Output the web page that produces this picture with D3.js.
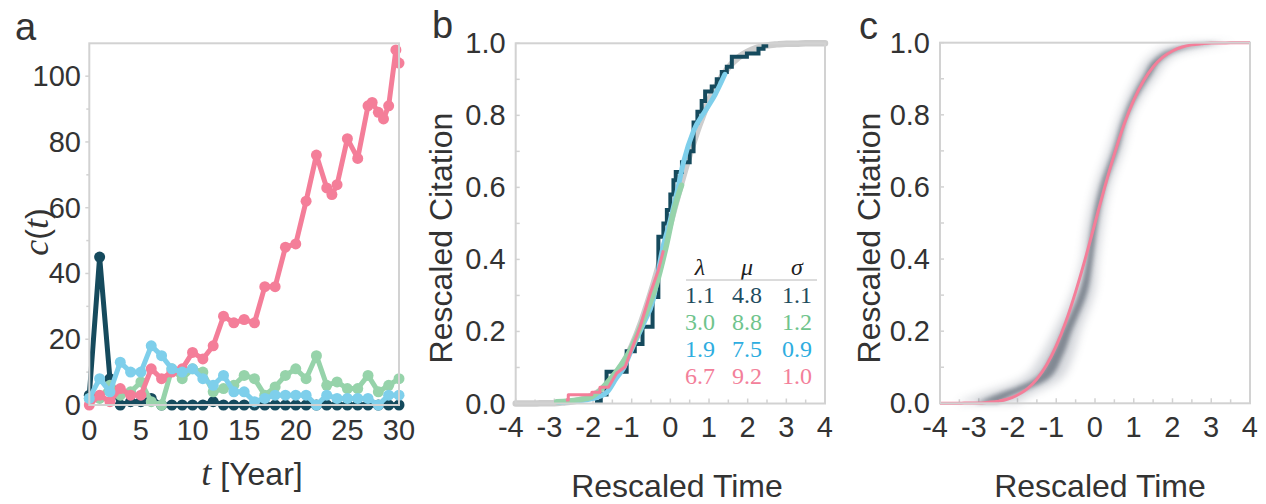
<!DOCTYPE html>
<html><head><meta charset="utf-8">
<script src="https://cdn.jsdelivr.net/npm/d3@7"></script>
<style>body{margin:0;background:#fff}svg{display:block}</style>
</head><body><svg id="chart" width="1266" height="504"></svg>
<script>
// ---------- DATA ----------
const yearsA = [0,1,2,3,4,5,6,7,8,9,10,11,12,13,14,15,16,17,18,19,20,21,22,23,24,25,26,27,28,29,30];
const darkCit  = [3,45,8,0,1,1,2,0,0,0,0,0,1,0,0,0,0,0,0,0,0,0,0,0,0,0,0,0,0,0,0];
const greenCit = [2,2,6,3,4,7,1,0,11,8,11,10,4,5,6,9,8,3,5.5,9,11,8,15,6,7,5,5,9,4,6,8];
const blueCit  = [2,8,4,13,10,10,18,15,11,10,11,8,6,9,4,4,1,2,3,3,3,3,0,3,2,2,2,2,0,3,3];
const pinkYears = [0,1,2,3,4,5,6,7,8,9,10,11,12,13,14,15,16,17,18,19,20,21,22,23,23.5,24,25,26,27,27.4,28,28.5,29,29.7,30];
const pinkCit   = [0,3,1,5,3,3,11,8,10,11,16,14,18,27,25,26,25,36,36,48,49,62,76,66,64,67,81,75,91,92,89,87,91,108,104];

const cdfX = [-4,-3.75,-3.5,-3.25,-3,-2.75,-2.5,-2.25,-2,-1.75,-1.5,-1.25,-1,-0.75,-0.5,-0.25,0,0.25,0.5,0.75,1,1.25,1.5,1.75,2,2.25,2.5,2.75,3,3.25,3.5,3.75,4];
const cdfP = [0,0,0,0.001,0.001,0.003,0.006,0.012,0.023,0.04,0.067,0.106,0.159,0.227,0.309,0.401,0.5,0.599,0.691,0.773,0.841,0.894,0.933,0.96,0.977,0.988,0.994,0.997,0.999,0.999,1,1,1];

// panel b empirical curves
const darkStepX = [-1.95,-1.8,-1.65,-1.13,-0.92,-0.72,-0.46,-0.31,-0.18,-0.09,0.0,0.08,0.14,0.3,0.5,0.6,0.7,0.81,0.9,1.07,1.2,1.33,1.46,1.59,1.98,2.28,2.41,2.48];
const darkStepY = [0.005,0.025,0.088,0.145,0.165,0.213,0.296,0.463,0.5,0.537,0.58,0.62,0.643,0.67,0.7,0.78,0.81,0.84,0.866,0.88,0.9,0.92,0.935,0.963,0.972,0.985,0.993,1.0];
const blueCurveX = [-2.9,-2.5,-2.0,-1.65,-1.4,-1.2,-1.0,-0.7,-0.44,-0.22,0.0,0.2,0.34,0.6,0.9,1.16,1.41];
const blueCurveY = [0.003,0.006,0.014,0.03,0.07,0.1,0.15,0.22,0.29,0.42,0.51,0.6,0.67,0.757,0.812,0.858,0.914];
const greenCurveX = [-2.94,-2.4,-2.03,-1.65,-1.39,-1.04,-0.7,-0.35,-0.1,0.1,0.29];
const greenCurveY = [0.005,0.01,0.019,0.056,0.09,0.148,0.232,0.334,0.44,0.54,0.606];
const pinkCurveX = [-2.7,-2.64,-2.64,-2.03,-2.03,-1.82,-1.82,-1.6,-1.39,-1.17,-1.04,-0.78,-0.52,-0.31,-0.18];
const pinkCurveY = [0.01,0.01,0.024,0.024,0.031,0.031,0.045,0.045,0.084,0.102,0.139,0.213,0.306,0.37,0.425];

// panel c band of many rescaled curves (extent at given heights)
const bandP  = [0,0.018,0.065,0.129,0.196,0.314,0.397,0.471,0.6,0.703,0.804,0.906,0.961,0.988,1];
const bandLo = [-3.6,-3.15,-1.94,-1.42,-1.08,-0.57,-0.35,-0.26,0.0,0.34,0.65,1.08,1.42,1.84,2.6];
const bandHi = [-2.0,-1.75,-0.9,-0.57,-0.39,0.0,0.08,0.17,0.39,0.73,0.99,1.59,2.02,2.87,3.6];

// table
const tableHeader = ["λ","μ","σ"];
const tableRows = [["1.1","4.8","1.1"],["3.0","8.8","1.2"],["1.9","7.5","0.9"],["6.7","9.2","1.0"]];

// ticks
const aYTicks = [0,20,40,60,80,100];
const aXTicks = [0,5,10,15,20,25,30];
const rYTicks = [0,0.2,0.4,0.6,0.8,1.0];
const rYLabels = ["0.0","0.2","0.4","0.6","0.8","1.0"];
const rXTicks = [-4,-3,-2,-1,0,1,2,3,4];

// ---------- STYLE ----------
const C = {dark:"#154a5d", green:"#96d3aa", blue:"#7ecfeb", pink:"#f47e99", gray:"#cdcdcd"};
const tableColors = ["#1f4d5f","#6fc48c","#2eade0","#f3809a"];
const frameCol = "#d2d2d2", textCol = "#333";
const sans = "'Liberation Sans', Arial, sans-serif";
const serif = "'Liberation Serif', 'Times New Roman', serif";
const tickFs = 29, labelFs = 32;

const svg = d3.select("#chart");
const defs = svg.append("defs");
defs.append("filter").attr("id","blur1").attr("x","-50%").attr("y","-20%").attr("width","200%").attr("height","140%")
  .append("feGaussianBlur").attr("stdDeviation",4);
defs.append("filter").attr("id","blur2").attr("x","-50%").attr("y","-20%").attr("width","200%").attr("height","140%")
  .append("feGaussianBlur").attr("stdDeviation",2);

function txt(g, x, y, s, opts={}) {
  return g.append("text").attr("x",x).attr("y",y).text(s)
    .attr("font-family",opts.ff||sans).attr("font-size",opts.fs||tickFs)
    .attr("fill",opts.fill||textCol).attr("text-anchor",opts.anchor||"middle");
}
function frame(x, y) {
  svg.append("rect").attr("x",x.range()[0]).attr("y",y.range()[1])
    .attr("width",x.range()[1]-x.range()[0]).attr("height",y.range()[0]-y.range()[1])
    .attr("fill","none").attr("stroke",frameCol).attr("stroke-width",2);
}

// ---------- PANEL A ----------
const xa = d3.scaleLinear([0,30],[89.3,399]);
const ya = d3.scaleLinear([0,110],[405,43.3]);
const ga = svg.append("g");
frame(xa, ya);
d3.range(0,110,10).forEach(v=>{
  ga.append("line").attr("x1",xa.range()[0]-(v%20===0?4:3)).attr("x2",xa.range()[0]).attr("y1",ya(v)).attr("y2",ya(v))
    .attr("stroke",frameCol).attr("stroke-width",1.5);
});
aYTicks.forEach(v=> txt(ga, 81, ya(v)+10, v, {anchor:"end"}));
aXTicks.forEach(v=> txt(ga, xa(v), 440, v));
const xl = ga.append("text").attr("x",252).attr("y",485).attr("text-anchor","middle")
  .attr("font-size",labelFs).attr("fill",textCol).attr("font-family",sans);
xl.append("tspan").attr("font-family",serif).attr("font-style","italic").attr("font-size",36).text("t");
xl.append("tspan").text(" [Year]");
const yl = ga.append("text").attr("transform","translate(48,232) rotate(-90)").attr("text-anchor","middle")
  .attr("font-size",labelFs).attr("fill",textCol).attr("font-family",sans);
yl.append("tspan").attr("font-family",serif).attr("font-style","italic").attr("font-size",36).text("c");
yl.append("tspan").text("(");
yl.append("tspan").attr("font-family",serif).attr("font-style","italic").attr("font-size",36).text("t");
yl.append("tspan").text(")");

const seriesA = [
  {col:C.dark,  t:yearsA, v:darkCit},
  {col:C.green, t:yearsA, v:greenCit},
  {col:C.pink,  t:pinkYears, v:pinkCit},
  {col:C.blue,  t:yearsA, v:blueCit}
];
const lineA = d3.line().x(d=>xa(d[0])).y(d=>ya(d[1]));
seriesA.forEach(s=>{
  const pts = s.t.map((t,i)=>[t,s.v[i]]);
  const g = ga.append("g");
  g.append("path").attr("d",lineA(pts)).attr("fill","none").attr("stroke",s.col)
    .attr("stroke-width",5).attr("stroke-linejoin","round");
  g.selectAll("circle").data(pts).join("circle").attr("cx",d=>xa(d[0])).attr("cy",d=>ya(d[1]))
    .attr("r",5.5).attr("fill",s.col);
});
txt(ga, 15, 40, "a", {anchor:"start", fs:38});

// ---------- RESCALED PANELS ----------
function rescaledAxes(x, y, g, ylabX, xlabX) {
  frame(x, y);
  d3.range(-4,4.01,0.5).forEach(v=>{
    g.append("line").attr("x1",x(v)).attr("x2",x(v)).attr("y1",y.range()[0]).attr("y2",y.range()[0]-(Number.isInteger(v)?5:4))
      .attr("stroke",frameCol).attr("stroke-width",1.5);
  });
  d3.range(0,1.01,0.1).forEach(v=>{
    g.append("line").attr("x1",x.range()[0]).attr("x2",x.range()[0]+4).attr("y1",y(v)).attr("y2",y(v))
      .attr("stroke",frameCol).attr("stroke-width",1.5);
  });
  rYTicks.forEach((v,i)=> txt(g, x.range()[0]-10, y(v)+10, rYLabels[i], {anchor:"end"}));
  rXTicks.forEach(v=> txt(g, x(v)+8, 437, String(v), {anchor:"end"}));
  g.append("text").attr("transform",`translate(${ylabX},238) rotate(-90)`).attr("text-anchor","middle")
    .attr("font-family",sans).attr("font-size",labelFs).attr("fill",textCol).text("Rescaled Citation");
  txt(g, xlabX, 497, "Rescaled Time", {fs:labelFs});
}

// ---------- PANEL B ----------
const xb = d3.scaleLinear([-4,4],[515.7,825]);
const yb = d3.scaleLinear([0,1],[403.5,43.3]);
const gb = svg.append("g");
rescaledAxes(xb, yb, gb, 452, 677);
txt(gb, 432, 38, "b", {anchor:"start", fs:38});
const zip = (a,b)=>a.map((v,i)=>[v,b[i]]);
const lb = ()=> d3.line().x(d=>xb(d[0])).y(d=>yb(d[1]));
gb.append("path").attr("d",lb().curve(d3.curveMonotoneX)(zip(cdfX,cdfP))).attr("fill","none")
  .attr("stroke",C.gray).attr("stroke-width",6.5).attr("stroke-linecap","round");
gb.append("path").attr("d",lb().curve(d3.curveStepAfter)(zip(darkStepX,darkStepY)))
  .attr("fill","none").attr("stroke",C.dark).attr("stroke-width",4);
gb.append("path").attr("d",lb().curve(d3.curveMonotoneX)(zip(blueCurveX,blueCurveY)))
  .attr("fill","none").attr("stroke",C.blue).attr("stroke-width",5).attr("stroke-linecap","round");
gb.append("path").attr("d",lb().curve(d3.curveMonotoneX)(zip(greenCurveX,greenCurveY)))
  .attr("fill","none").attr("stroke",C.green).attr("stroke-width",5.5).attr("stroke-linecap","round");
gb.append("path").attr("d",lb()(zip(pinkCurveX,pinkCurveY)))
  .attr("fill","none").attr("stroke",C.pink).attr("stroke-width",3).attr("stroke-linejoin","round");

// table
const colX = [700, 747, 797];
const headY = 275, rowY = [303, 330, 357, 384];
tableHeader.forEach((h,i)=> txt(gb, colX[i], headY, h, {ff:serif, fs:24, fill:"#222"}).attr("font-style","italic"));
gb.append("line").attr("x1",686).attr("x2",817).attr("y1",280).attr("y2",280).attr("stroke","#b8b8b8").attr("stroke-width",1);
tableRows.forEach((r,ri)=> r.forEach((c,ci)=> txt(gb, colX[ci], rowY[ri], c, {ff:serif, fs:24, fill:tableColors[ri]})));

// ---------- PANEL C ----------
const xc = d3.scaleLinear([-4,4],[940,1250]);
const yc = d3.scaleLinear([0,1],[403.3,42.7]);
const gc = svg.append("g");
rescaledAxes(xc, yc, gc, 880, 1100);
txt(gc, 859, 39, "c", {anchor:"start", fs:38});
const band = bandP.map((p,i)=>({p, lo:bandLo[i], hi:bandHi[i]}));
const areaOuter = d3.area().y(d=>yc(d.p)).x0(d=>xc(d.lo)).x1(d=>xc(d.hi)).curve(d3.curveMonotoneY);
gc.append("path").attr("d",areaOuter(band)).attr("fill","#6a7282").attr("opacity",0.28).attr("filter","url(#blur1)");
const areaInner = d3.area().y(d=>yc(d.p))
  .x0(d=>xc((d.lo+d.hi)/2-(d.hi-d.lo)*0.18)).x1(d=>xc((d.lo+d.hi)/2+(d.hi-d.lo)*0.18)).curve(d3.curveMonotoneY);
gc.append("path").attr("d",areaInner(band)).attr("fill","#3e4858").attr("opacity",0.55).attr("filter","url(#blur2)");
gc.append("path").attr("d",d3.line().x(d=>xc(d[0])).y(d=>yc(d[1])).curve(d3.curveMonotoneX)(zip(cdfX,cdfP)))
  .attr("fill","none").attr("stroke",C.pink).attr("stroke-width",3);
</script></body></html>
